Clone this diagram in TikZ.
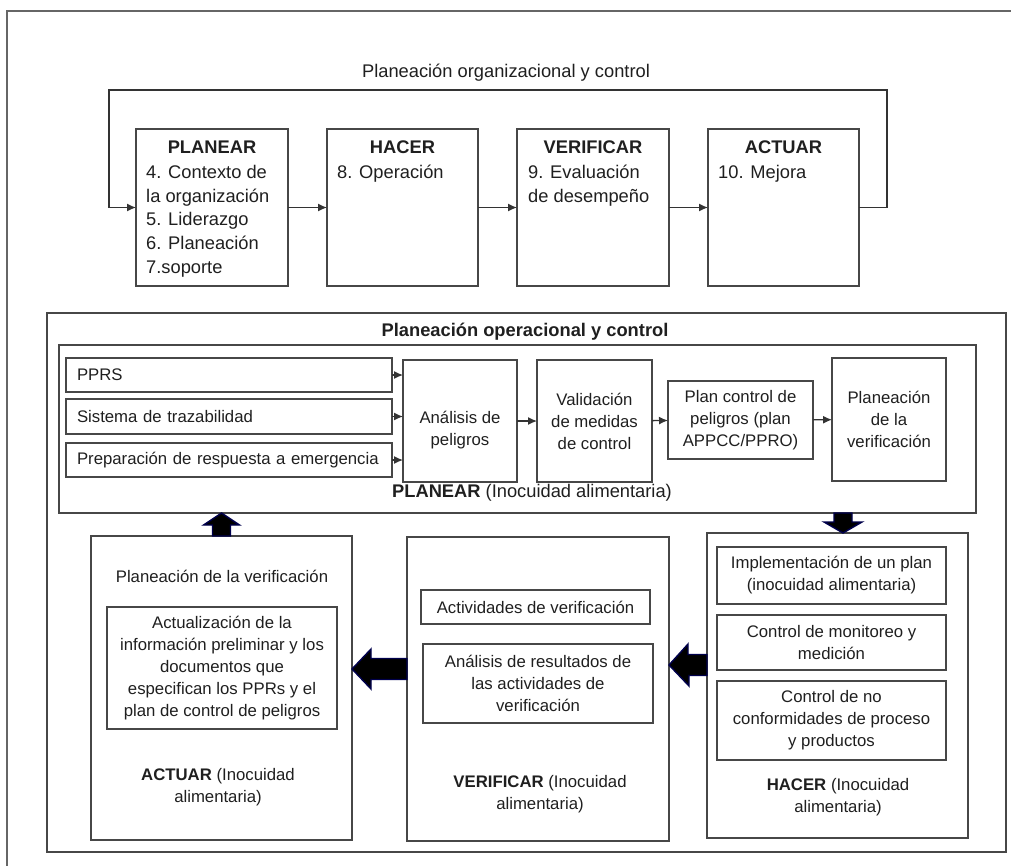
\documentclass[tikz,border=0pt]{standalone}
\usepackage{fontspec}
\setmainfont{Liberation Sans}
\usetikzlibrary{arrows.meta,calc}
\newcommand\rbox[7][]{\node[box,minimum width={#5-#3},minimum height={#6-#4},#1] (#2) at ({(#3+#5)/2},{(#4+#6)/2}) {#7};}
\begin{document}
\begin{tikzpicture}[x=1pt,y=-1pt,
  every node/.style={text=black!88},
  box/.style={draw=black!72, line width=1.4pt, inner sep=0pt, outer sep=0pt, align=center},
  arr/.style={draw=black!80, line width=1.3pt, -{Latex[length=9pt,width=8pt]}},
  fbig/.style={font=\fontsize{18.3}{23.7}\selectfont},
  fsmall/.style={font=\fontsize{16.75}{22}\selectfont},
  lbox/.style={fsmall, align=left, inner xsep=11pt, text width={#1-22pt}},
  blk/.style={fill=black, draw=blue!30!black, line width=1.4pt, line join=miter}
]
\useasboundingbox (0,0) rectangle (1011,865);
% outer frame (cropped)
\draw[black!60, line width=1.5pt] (7,870) -- (7,11) -- (1016,11);

% ---------- top: organizational planning ----------
\node[fbig] (ttop) at (506,73) {Planeación organizacional y control};
\rbox{pl}{136}{129}{288}{286}{}
\rbox{ha}{327}{129}{478}{286}{}
\rbox{ve}{517}{129}{669}{286}{}
\rbox{ac}{708}{129}{859}{286}{}
\node[fbig, anchor=base, inner sep=0pt] (plh) at (212,153.5) {\textbf{PLANEAR}};
\node[fbig, anchor=base, inner sep=0pt] (hah) at (402.5,153.5) {\textbf{HACER}};
\node[fbig, anchor=base, inner sep=0pt] (veh) at (593,153.5) {\textbf{VERIFICAR}};
\node[fbig, anchor=base, inner sep=0pt] (ach) at (783.5,153.5) {\textbf{ACTUAR}};
\node[fbig, anchor=base west, inner sep=0pt, align=left] (plt) at (146,273.3) {4. Contexto de\\la organización\\5. Liderazgo\\6. Planeación\\7.soporte};
\node[fbig, anchor=base west, inner sep=0pt, align=left] (hat) at (337,178.5) {8. Operación};
\node[fbig, anchor=base west, inner sep=0pt, align=left] (vet) at (528,202.2) {9. Evaluación\\de desempeño};
\node[fbig, anchor=base west, inner sep=0pt, align=left] (act) at (718,178.5) {10. Mejora};
\draw[arr] (pl) -- (ha);
\draw[arr] (ha) -- (ve);
\draw[arr] (ve) -- (ac);
\coordinate (lr) at (887,90);
\coordinate (ll) at (109,90);
\draw[arr] (ac.east) -| (lr) -- (ll) |- (pl.west);

% ---------- bottom: operational planning ----------
\rbox{op}{47}{313}{1006}{852}{}
\node[fbig] (optitle) at (525,332) {\textbf{Planeación operacional y control}};
\rbox{pf}{59}{345}{976}{513}{}
\rbox[lbox=326pt]{pprs}{66}{358}{392}{392}{PPRS}
\rbox[lbox=326pt]{traz}{66}{399}{392}{434}{Sistema de trazabilidad}
\rbox[lbox=326pt]{prep}{66}{443}{392}{477}{Preparación de respuesta a emergencia}
\rbox{an}{403}{360}{517}{482}{}
\node[fsmall, align=center] (ant) at (460,430) {Análisis de\\peligros};
\rbox[fsmall]{va}{537}{360}{652}{482}{Validación\\de medidas\\de control}
\rbox[fsmall]{pc}{668}{381}{813}{459}{Plan control de\\peligros (plan\\APPCC/PPRO)}
\rbox[fsmall]{pv}{832}{358}{946}{481}{Planeación\\de la\\verificación}
\draw[arr] (pprs.east) -- (pprs.east -| an.west);
\draw[arr] (traz.east) -- (traz.east -| an.west);
\draw[arr] (prep.east) -- (prep.east -| an.west);
\draw[arr] (an) -- (va);
\draw[arr] (va) -- (pc);
\draw[arr] (pc) -- (pv);
\node[fbig] (pft) at (532,493) {\textbf{PLANEAR} (Inocuidad alimentaria)};

% ACTUAR
\rbox{actb}{91}{536}{352}{840}{}
\node[fsmall] (actsub) at (222,576) {Planeación de la verificación};
\rbox[fsmall]{actin}{107}{607}{337}{729}{Actualización de la\\información preliminar y los\\documentos que\\especifican los PPRs y el\\plan de control de peligros}
\node[fsmall, align=center] (actl) at (218,787.5) {\textbf{ACTUAR} (Inocuidad\\alimentaria)};

% VERIFICAR
\rbox{verb}{407}{537}{669}{841}{}
\rbox[fsmall]{vera}{421}{590}{650}{624}{Actividades de verificación}
\rbox[fsmall]{verr}{423}{644}{653}{723}{Análisis de resultados de\\las actividades de\\verificación}
\node[fsmall, align=center] (verl) at (540,794) {\textbf{VERIFICAR} (Inocuidad\\alimentaria)};

% HACER
\rbox{hacb}{707}{533}{968}{838}{}
\rbox[fsmall]{hac1}{717}{547}{946}{604}{Implementación de un plan\\(inocuidad alimentaria)}
\rbox[fsmall]{hac2}{717}{615}{946}{670}{Control de monitoreo y\\medición}
\rbox[fsmall]{hac3}{717}{681}{946}{760}{Control de no\\conformidades de proceso\\y productos}
\node[fsmall, align=center] (hacl) at (838,797.5) {\textbf{HACER} (Inocuidad\\alimentaria)};

% block arrows
\draw[blk] (actb.north) ++(-9,0) -- ++(0,-11) -- ++(-9,0) -- (actb.north |- pf.south) -- ++(18,12) -- ++(-9,0) -- ++(0,11) -- cycle;
\coordinate (dtip) at ($(hacb.north)+(5.5,0)$);
\draw[blk] (dtip) -- ++(-19,-11) -- ++(10,0) -- ++(0,-9) -- ++(18,0) -- ++(0,9) -- ++(10,0) -- cycle;
\coordinate (ltip1) at (actb.east |- 0,669);
\draw[blk] (ltip1) -- ++(19,-20) -- ++(0,9.5) -- (verb.west |- 0,658.5) -- ++(0,21) -- ++(-36,0) -- ++(0,9.5) -- cycle;
\coordinate (ltip2) at (verb.east |- 0,665);
\draw[blk] (ltip2) -- ++(19,-21) -- ++(0,10.5) -- (hacb.west |- 0,654.5) -- ++(0,21) -- ++(-18,0) -- ++(0,10.5) -- cycle;
\end{tikzpicture}
\end{document}
